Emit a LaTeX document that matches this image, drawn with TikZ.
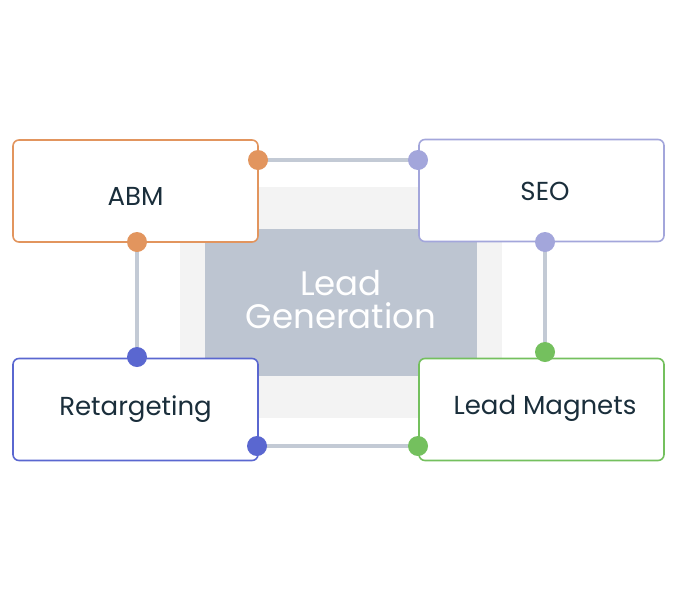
\documentclass[tikz,border=0pt]{standalone}
\usepackage{fontspec}
\setmainfont{Poppins}
\definecolor{orangeC}{HTML}{E2955E}
\definecolor{lavC}{HTML}{A3A6DB}
\definecolor{blueC}{HTML}{5A67D0}
\definecolor{greenC}{HTML}{74C05E}
\definecolor{lineC}{HTML}{C3CAD5}
\definecolor{outerC}{HTML}{F3F3F3}
\definecolor{innerC}{HTML}{BDC5D1}
\definecolor{textC}{HTML}{1A2E3B}
\begin{document}
\begin{tikzpicture}[x=1pt,y=-1pt,
  card/.style={draw=#1, line width=1.6pt, fill=white, rounded corners=6pt, minimum width=245pt, minimum height=102pt, inner sep=0pt},
  lbl/.style={text=textC, font=\fontsize{26}{30}\selectfont, inner sep=0pt, anchor=base},
  dot/.style={circle, fill=#1, minimum size=20pt, inner sep=0pt},
  conn/.style={draw=lineC, line width=4.5pt}]
\useasboundingbox (0,0) rectangle (679,600);
\node[fill=outerC, minimum width=322pt, minimum height=231pt, inner sep=0pt] (outer) at (341,302.5) {};
\node[fill=innerC, minimum width=272pt, minimum height=147pt, inner sep=0pt] (center) at (341,302.5) {};
\node[text=white, align=center, font=\fontsize{34}{33}\selectfont, inner sep=0pt] (ctext) at (341,300) {Lead\\Generation};
\coordinate (a1) at (258,160);
\coordinate (a2) at (137,242);
\coordinate (s1) at (418,160);
\coordinate (s2) at (545,242);
\coordinate (r1) at (137,357);
\coordinate (r2) at (257,446);
\coordinate (m1) at (545,352);
\coordinate (m2) at (418,446);
\draw[conn] (a1) -- (s1);
\draw[conn] (a2) -- (r1);
\draw[conn] (s2) -- (m1);
\draw[conn] (r2) -- (m2);
\node[card=orangeC] (abm) at (135.5,191) {};
\node[card=lavC] (seo) at (541.5,190.5) {};
\node[card=blueC] (ret) at (135.5,409.5) {};
\node[card=greenC] (mag) at (541.5,409.5) {};
\node[lbl] (tabm) at (135.5,205) {ABM};
\node[lbl] (tseo) at (545,200.5) {SEO};
\node[lbl] (tret) at (135.5,415) {Retargeting};
\node[lbl] (tmag) at (545,414.5) {Lead Magnets};
\node[dot=orangeC] (da1) at (a1) {};
\node[dot=orangeC] (da2) at (a2) {};
\node[dot=lavC] (ds1) at (s1) {};
\node[dot=lavC] (ds2) at (s2) {};
\node[dot=blueC] (dr1) at (r1) {};
\node[dot=blueC] (dr2) at (r2) {};
\node[dot=greenC] (dm1) at (m1) {};
\node[dot=greenC] (dm2) at (m2) {};
\end{tikzpicture}
\end{document}
